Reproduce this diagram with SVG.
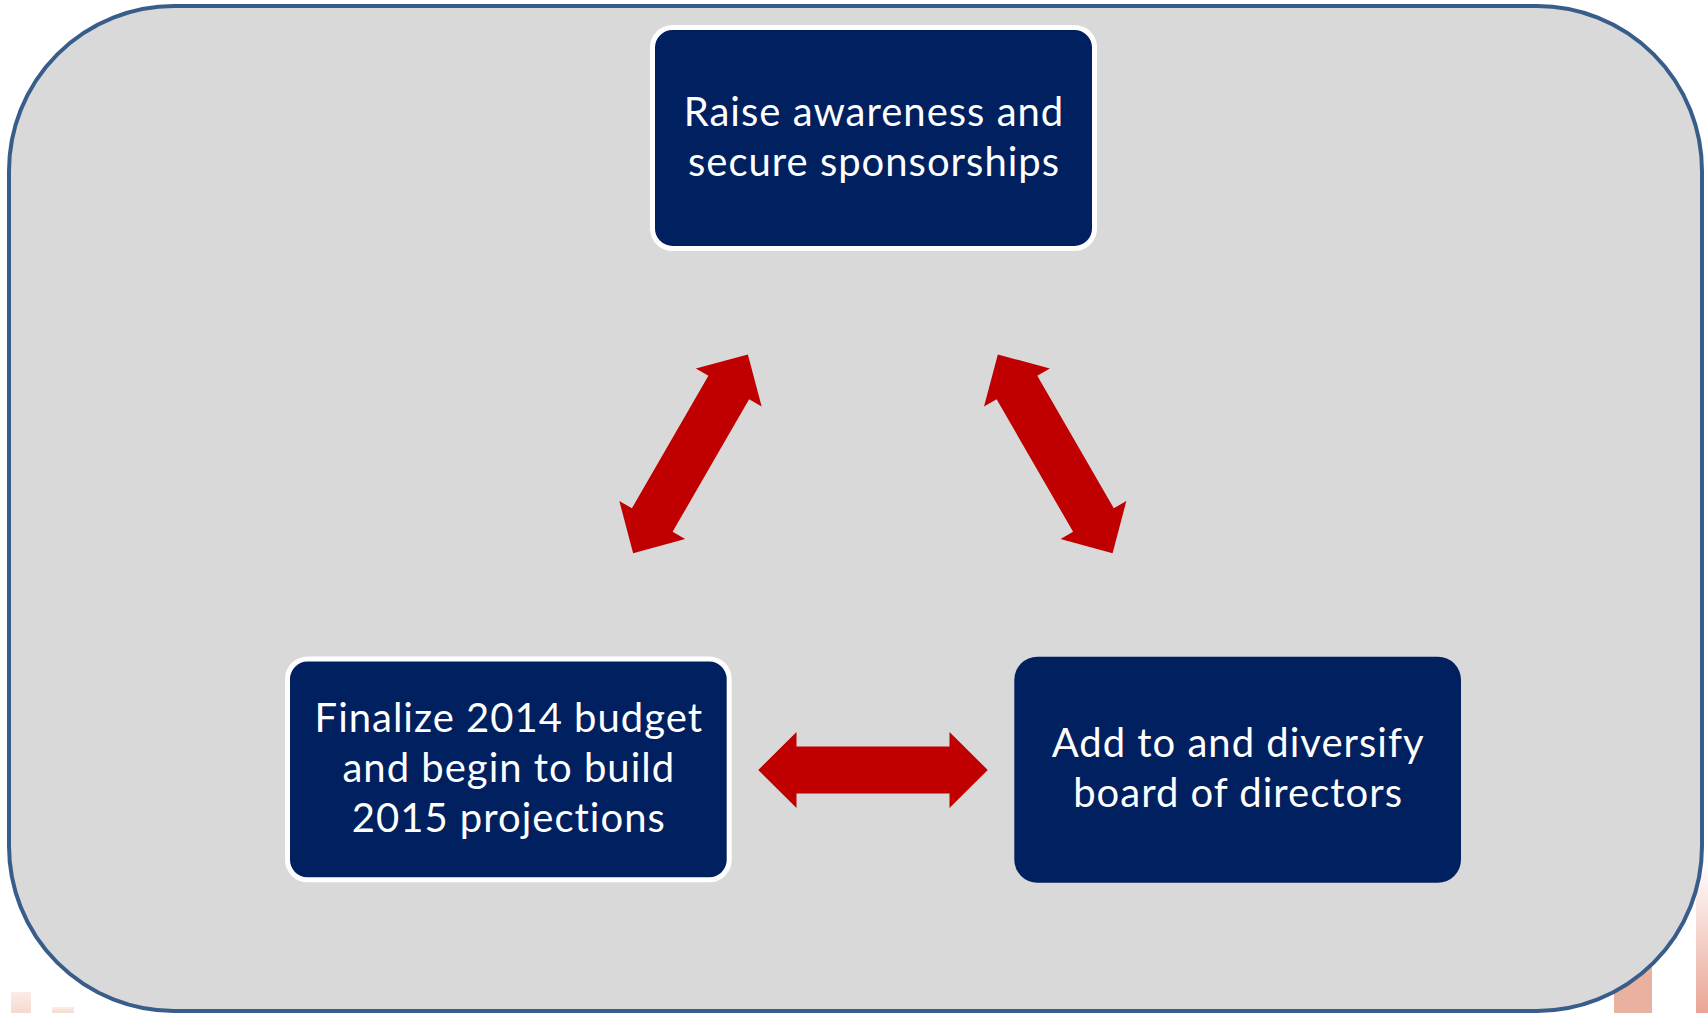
<svg xmlns="http://www.w3.org/2000/svg" width="1708" height="1013" viewBox="0 0 1708 1013">
  <defs>
    <style>
      .panel { fill: #d9d9d9; stroke: #385d8a; stroke-width: 4; }
      .box { fill: #002060; }
      .box-ring { fill: #002060; stroke: #ffffff; stroke-width: 5; }
      .label { font-family: "Lato", "Open Sans", "Liberation Sans", sans-serif; font-size: 40px; letter-spacing: 1px; fill: #ffffff; text-anchor: middle; }
      .link { fill: #c00000; }
    </style>
    <linearGradient id="fadeTall" x1="0" y1="0" x2="0" y2="1">
      <stop offset="0" stop-color="#e8a090" stop-opacity="0"/>
      <stop offset="1" stop-color="#e8a090" stop-opacity="0.95"/>
    </linearGradient>
    <linearGradient id="fadeShort" x1="0" y1="0" x2="0" y2="1">
      <stop offset="0" stop-color="#f0c0b0" stop-opacity="0.3"/>
      <stop offset="1" stop-color="#f0c0b0" stop-opacity="0.6"/>
    </linearGradient>
    <!-- double-headed block arrow, centred on the origin, pointing along x -->
    <polygon id="dbl" points="-114.75,0 -76.5,-38 -76.5,-23.5 76.5,-23.5 76.5,-38 114.75,0 76.5,38 76.5,23.5 -76.5,23.5 -76.5,38"/>
  </defs>

  <rect width="1708" height="1013" fill="#ffffff"/>

  <!-- bars of the slide behind the panel -->
  <rect x="11" y="992" width="20" height="21" fill="url(#fadeShort)"/>
  <rect x="52" y="1007" width="22" height="6" fill="url(#fadeShort)"/>
  <rect x="1614" y="900" width="38" height="113" fill="#eab0a0"/>
  <rect x="1696" y="860" width="12" height="153" fill="url(#fadeTall)"/>

  <!-- background panel -->
  <rect class="panel" x="9" y="6" width="1693" height="1005" rx="165" ry="165"/>

  <g id="connectors">
    <use href="#dbl" class="link" transform="translate(690.5,453.8) rotate(-60)"/>
    <use href="#dbl" class="link" transform="translate(1055.2,453.8) rotate(60)"/>
    <use href="#dbl" class="link" transform="translate(873,770)"/>
  </g>

  <g id="node-awareness">
    <rect class="box-ring" x="652.5" y="27.5" width="442" height="221" rx="20" ry="20"/>
    <text class="label" x="874" y="126">Raise awareness and</text>
    <text class="label" x="874" y="176">secure sponsorships</text>
  </g>

  <g id="node-budget">
    <rect class="box-ring" x="287.5" y="659" width="441.7" height="220.8" rx="20" ry="20"/>
    <text class="label" x="508.8" y="731.7">Finalize 2014 budget</text>
    <text class="label" x="508.8" y="781.7">and begin to build</text>
    <text class="label" x="508.8" y="831.7">2015 projections</text>
  </g>

  <g id="node-board">
    <rect class="box" x="1014.3" y="656.7" width="446.7" height="226" rx="23" ry="23"/>
    <text class="label" x="1238.1" y="757.3">Add to and diversify</text>
    <text class="label" x="1238.1" y="806.7">board of directors</text>
  </g>
</svg>
